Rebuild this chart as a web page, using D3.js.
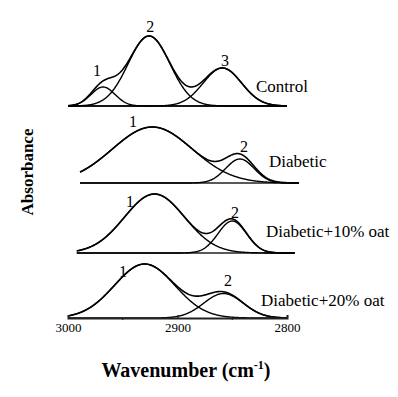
<!DOCTYPE html>
<html>
<head>
<meta charset="utf-8">
<script src="https://cdn.jsdelivr.net/npm/d3@7"></script>
<style>
  html, body { margin: 0; padding: 0; background: #fff; }
  svg { display: block; }
  svg text { font-family: "Liberation Serif", "DejaVu Serif", serif; }
</style>
</head>
<body>
<div id="chart"></div>
<script>
// Samples, stacked top to bottom
const samples = ["Control", "Diabetic", "Diabetic+10% oat", "Diabetic+20% oat"]
// Wavenumber span of each trace (cm-1)
const spans = [[3000, 2800], [2989, 2789], [2992, 2793], [3000, 2800]]
// Fitted bands: centre (cm-1), height (abs. units), width (sigma, cm-1)
const bandCentres = [[2968, 2926, 2859], [2923, 2843], [2921, 2850], [2930, 2858]]
const bandHeights = [[0.19, 0.70, 0.38], [0.56, 0.24], [0.59, 0.32], [0.54, 0.245]]
const bandWidths = [[11, 19, 17.5], [36.5, 13], [27.5, 13], [27.5, 18]]
// Band number labels (anchor in cm-1 / abs. units above the trace baseline)
const bandLabelWn = [[2973.5, 2925, 2856.6], [2940.6, 2839.3], [2943.4, 2847.5], [2949.8, 2853.9]]
const bandLabelAbs = [[0.30, 0.74, 0.40], [0.56, 0.31], [0.46, 0.35], [0.41, 0.32]]
// Sample name labels
const nameWn = [2828.3, 2816.4, 2819.2, 2823.7]
const nameAbs = [0.14, 0.16, 0.16, 0.12]
// Vertical stacking offsets (abs. units)
const offsets = [2.12, 1.35, 0.65, 0]
const xTicks = [3000, 2900, 2800]
const xMinorTicks = [2950, 2850]

const width = 398
const height = 397
const serif = "Liberation Serif, DejaVu Serif, serif"

const svg = d3.select("#chart").append("svg")
  .attr("width", width)
  .attr("height", height)

const x = d3.scaleLinear().domain([3000, 2800]).range([68, 287])
const y = d3.scaleLinear().domain([0, 2.12]).range([318, 106])

const gauss = (wn, c, h, s) => h * Math.exp(-((wn - c) ** 2) / (2 * s * s))

const line = d3.line()
  .x(d => x(d[0]))
  .y(d => y(d[1]))

samples.forEach((name, i) => {
  const off = offsets[i]
  const [w0, w1] = spans[i]
  const wns = d3.range(w0, w1 - 0.25, -0.5)
  const g = svg.append("g")

  // baseline (the bottom one is the axis)
  if (i < samples.length - 1) {
    g.append("path")
      .attr("d", line([[w0, off], [w1, off]]))
      .attr("fill", "none")
      .attr("stroke", "#222")
      .attr("stroke-width", 1.6)
  }

  // component bands
  bandCentres[i].forEach((c, j) => {
    const pts = wns.map(w => [w, off + gauss(w, c, bandHeights[i][j], bandWidths[i][j])])
    g.append("path")
      .attr("d", line(pts))
      .attr("fill", "none")
      .attr("stroke", "#000")
      .attr("stroke-width", 1.4)
  })

  // envelope
  const sum = wns.map(w => [w, off + d3.sum(bandCentres[i], (c, j) => gauss(w, c, bandHeights[i][j], bandWidths[i][j]))])
  g.append("path")
    .attr("d", line(sum))
    .attr("fill", "none")
    .attr("stroke", "#000")
    .attr("stroke-width", 1.6)

  // band numbers
  bandLabelWn[i].forEach((w, j) => {
    g.append("text")
      .attr("x", x(w))
      .attr("y", y(off + bandLabelAbs[i][j]))
      .attr("text-anchor", "middle")
      .attr("font-family", serif)
      .attr("font-size", "16px")
      .attr("fill", "#000")
      .text(j + 1)
  })

  g.append("text")
    .attr("x", x(nameWn[i]))
    .attr("y", y(off + nameAbs[i]))
    .attr("font-family", serif)
    .attr("font-size", "17px")
    .attr("fill", "#000")
    .text(name)
})

// x axis
const axis = svg.append("g")
  .attr("transform", `translate(0,${y(0)})`)
  .call(d3.axisBottom(x).tickValues(xTicks).tickSize(-3).tickPadding(5).tickFormat(d3.format("d")))
axis.attr("font-family", serif).attr("font-size", 13)
axis.select(".domain").attr("stroke", "#222").attr("stroke-width", 2)
axis.selectAll(".tick line").attr("stroke", "#222").attr("stroke-width", 1.2)
axis.selectAll(".tick text")
  .attr("font-family", serif)
  .attr("font-size", "13px")
  .attr("fill", "#000")

axis.selectAll(".minor")
  .data(xMinorTicks)
  .join("line")
  .attr("class", "minor")
  .attr("x1", d => x(d)).attr("x2", d => x(d))
  .attr("y1", 0).attr("y2", 2)
  .attr("stroke", "#222")
  .attr("stroke-width", 1.2)

// axis titles
const xt = svg.append("text")
  .attr("x", 186)
  .attr("y", 377)
  .attr("text-anchor", "middle")
  .attr("font-family", serif)
  .attr("font-size", "20px")
  .attr("font-weight", "700")
  .attr("fill", "#000")
xt.append("tspan").text("Wavenumber (cm")
xt.append("tspan").attr("dy", -8).attr("font-size", "12px").text("-1")
xt.append("tspan").attr("dy", 8).text(")")

svg.append("text")
  .attr("transform", "translate(33,172) rotate(-90)")
  .attr("text-anchor", "middle")
  .attr("font-family", serif)
  .attr("font-size", "17px")
  .attr("font-weight", "700")
  .attr("fill", "#000")
  .text("Absorbance")
</script>
</body>
</html>
